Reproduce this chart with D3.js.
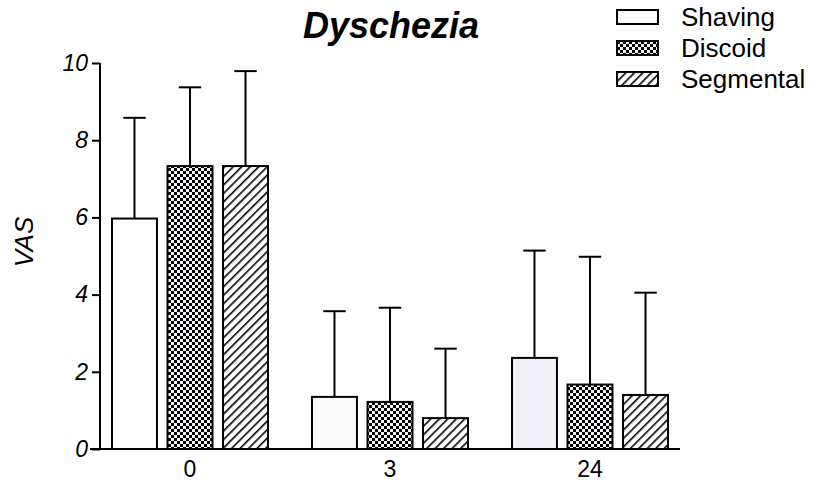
<!DOCTYPE html>
<html>
<head>
<meta charset="utf-8">
<script src="https://cdn.jsdelivr.net/npm/d3@7"></script>
<style>
  body { margin: 0; background: #fff; }
  text { font-family: "Liberation Sans", Arial, sans-serif; }
</style>
</head>
<body>
<div id="chart"></div>
<script>
// data
var groups = ["0", "3", "24"];
var series = ["Shaving", "Discoid", "Segmental"];
var means = {
  Shaving:   [5.97, 1.35, 2.36],
  Discoid:   [7.33, 1.22, 1.67],
  Segmental: [7.33, 0.80, 1.40]
};
var upper = {
  Shaving:   [8.58, 3.57, 5.14],
  Discoid:   [9.37, 3.66, 4.98],
  Segmental: [9.79, 2.60, 4.05]
};
var yTicks = [0, 2, 4, 6, 8, 10];

var width = 816, height = 491;
var margin = {top: 63, left: 100};
var plotBottom = 449;

var svg = d3.select("#chart").append("svg")
    .attr("width", width)
    .attr("height", height);

// patterns
var defs = svg.append("defs");
var chk = defs.append("pattern")
    .attr("id", "checker")
    .attr("patternUnits", "userSpaceOnUse")
    .attr("width", 6).attr("height", 6);
chk.append("rect").attr("width", 6).attr("height", 6).attr("fill", "#f4f4f8");
chk.append("rect").attr("width", 3).attr("height", 3).attr("fill", "#000");
chk.append("rect").attr("x", 3).attr("y", 3).attr("width", 3).attr("height", 3).attr("fill", "#000");

var hatch = defs.append("pattern")
    .attr("id", "hatch")
    .attr("patternUnits", "userSpaceOnUse")
    .attr("width", 6).attr("height", 6)
    .attr("patternTransform", "rotate(45)");
hatch.append("rect").attr("width", 6).attr("height", 6).attr("fill", "#fff");
hatch.append("line")
    .attr("x1", 0).attr("y1", 0).attr("x2", 0).attr("y2", 6)
    .attr("stroke", "#000").attr("stroke-width", 3.2);

var fills = {
  Shaving: ["#ffffff", "#fafafa", "#efeff5"],
  Discoid: ["url(#checker)", "url(#checker)", "url(#checker)"],
  Segmental: ["url(#hatch)", "url(#hatch)", "url(#hatch)"]
};

// scales
var y = d3.scaleLinear().domain([0, 10]).range([plotBottom, margin.top]);

var x0 = d3.scaleBand()
    .domain(groups)
    .range([90, 690])
    .paddingInner(0.22)
    .paddingOuter(0.11);
var x1 = d3.scaleBand()
    .domain(series)
    .range([0, x0.bandwidth()])
    .paddingInner(0.19);

var rows = [];
groups.forEach(function(g, i) {
  series.forEach(function(s) {
    rows.push({group: g, series: s, value: means[s][i], hi: upper[s][i], fill: fills[s][i]});
  });
});

function cx(d) { return x0(d.group) + x1(d.series) + x1.bandwidth() / 2; }

// error bars (drawn first so bars sit on top)
var eb = svg.append("g").attr("class", "errors");
eb.selectAll("line.stem")
    .data(rows).enter().append("line")
    .attr("class", "stem")
    .attr("x1", cx).attr("x2", cx)
    .attr("y1", function(d) { return y(d.value); })
    .attr("y2", function(d) { return y(d.hi); })
    .attr("stroke", "#000").attr("stroke-width", 2);
eb.selectAll("line.cap")
    .data(rows).enter().append("line")
    .attr("class", "cap")
    .attr("x1", function(d) { return cx(d) - x1.bandwidth() / 4; })
    .attr("x2", function(d) { return cx(d) + x1.bandwidth() / 4; })
    .attr("y1", function(d) { return y(d.hi); })
    .attr("y2", function(d) { return y(d.hi); })
    .attr("stroke", "#000").attr("stroke-width", 2);

// bars
svg.append("g").selectAll("rect")
    .data(rows).enter().append("rect")
    .attr("x", function(d) { return x0(d.group) + x1(d.series); })
    .attr("y", function(d) { return y(d.value); })
    .attr("width", x1.bandwidth())
    .attr("height", function(d) { return plotBottom - y(d.value); })
    .attr("fill", function(d) { return d.fill; })
    .attr("stroke", "#000").attr("stroke-width", 2);

// y axis
var yAxis = d3.axisLeft(y).tickValues(yTicks).tickSize(8).tickPadding(4);
var gy = svg.append("g")
    .attr("transform", "translate(" + margin.left + ",0)")
    .call(yAxis);
gy.attr("font-size", 23).attr("font-family", "Liberation Sans, Arial, sans-serif");
gy.select(".domain").attr("stroke-width", 2).attr("d", "M0," + y(10) + "V" + plotBottom);
gy.selectAll(".tick line").attr("stroke-width", 2);
gy.selectAll("text")
    .attr("font-style", "italic").attr("fill", "#000");

// x axis
var xAxis = d3.axisBottom(x0).tickSize(0).tickPadding(12);
var gx = svg.append("g")
    .attr("transform", "translate(0," + plotBottom + ")")
    .call(xAxis);
gx.attr("font-size", 23).attr("font-family", "Liberation Sans, Arial, sans-serif");
gx.select(".domain").attr("stroke-width", 2).attr("d", "M90,0H680");
gx.selectAll("text").attr("fill", "#000");

// y label
svg.append("text")
    .attr("transform", "translate(33,242) rotate(-90)")
    .attr("text-anchor", "middle")
    .attr("font-size", 26).attr("font-style", "italic")
    .text("VAS");

// title
svg.append("text")
    .attr("x", 391).attr("y", 38)
    .attr("text-anchor", "middle")
    .attr("font-size", 36).attr("font-weight", "bold").attr("font-style", "italic")
    .text("Dyschezia");

// legend
var legend = svg.append("g").selectAll("g")
    .data(series).enter().append("g")
    .attr("transform", function(d, i) { return "translate(617," + (10 + i * 31) + ")"; });
legend.append("rect")
    .attr("width", 41).attr("height", 14)
    .attr("fill", function(d) { return fills[d][0]; })
    .attr("stroke", "#000").attr("stroke-width", 2);
legend.append("text")
    .attr("x", 64).attr("y", 16)
    .attr("font-size", 26)
    .text(function(d) { return d; });
</script>
</body>
</html>
